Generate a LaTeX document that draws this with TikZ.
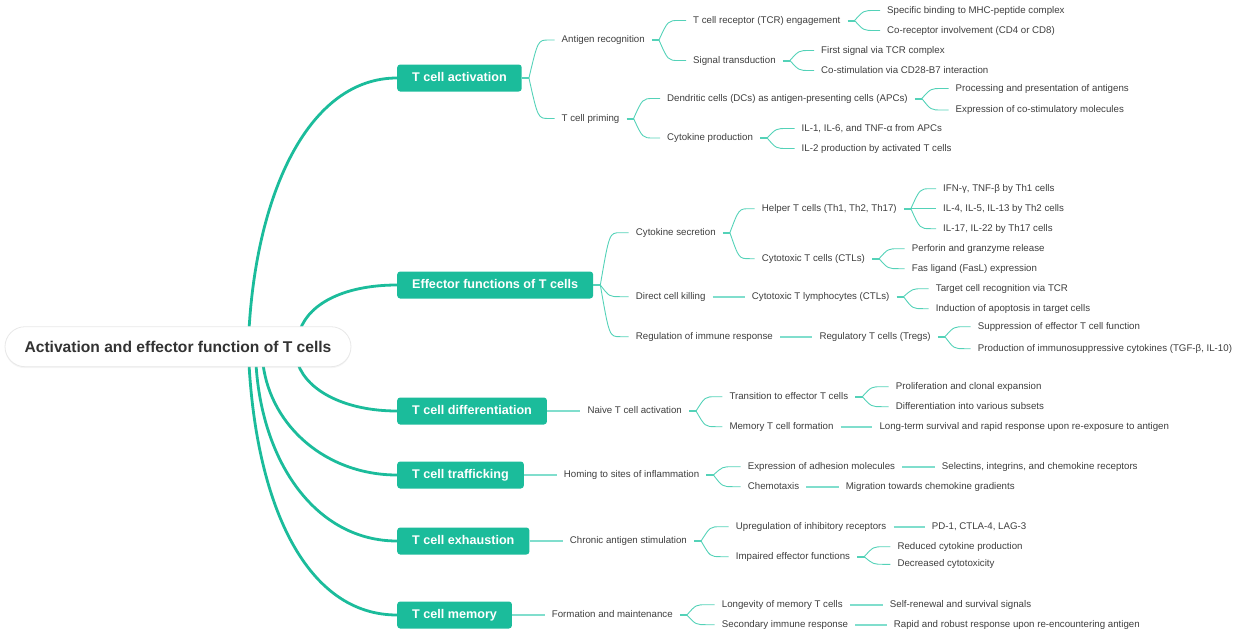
\documentclass[tikz,border=0pt]{standalone}
\usepackage{fontspec}
\setmainfont{Liberation Sans}
\usetikzlibrary{calc,shadows}
\definecolor{teal1}{RGB}{27,188,155}
\definecolor{tealL}{RGB}{84,210,184}
\definecolor{tealS}{RGB}{128,222,205}
\definecolor{txt}{RGB}{62,62,62}
\definecolor{roottxt}{RGB}{51,51,51}
\definecolor{rootline}{RGB}{232,232,232}
\newcommand\fk[2]{%
  \foreach \c in {#2}{%
    \draw[curv] ($(#1.east)+(7,0)$) .. controls ($(#1.east |- \c.west)+(16,0)$) .. ($(#1.east |- \c.west)+(27,0)$) -- (\c.west);}%
  \draw[stub] (#1.east) -- ($(#1.east)+(7.5,0)$);}
\newcommand\lnk[2]{\draw[straight] (#1.east) -- (#2.west);}
\begin{document}
\begin{tikzpicture}[x=1pt,y=-1pt,
  rootbox/.style={draw=rootline, line width=0.8pt, fill=white, rounded corners=20pt,
    minimum width=346pt, minimum height=40pt, text=roottxt,
    font=\fontsize{15.6}{18}\selectfont\bfseries,
    drop shadow={shadow xshift=0pt, shadow yshift=-1.5pt, opacity=0.08}},
  branch/.style={fill=teal1, rounded corners=3pt, text=white,
    font=\fontsize{12.6}{15}\selectfont\bfseries, anchor=west, inner xsep=15pt,
    minimum height=27pt, text height=9pt, text depth=2.5pt},
  leaf/.style={anchor=west, xshift=-7pt, inner xsep=7pt, inner ysep=0pt, text=txt,
    font=\fontsize{9.7}{11}\selectfont, text height=7pt, text depth=2pt},
  mainln/.style={draw=teal1, line width=2.8pt},
  stub/.style={draw=tealL, line width=2pt},
  curv/.style={draw=tealL, line width=0.9pt},
  straight/.style={draw=tealS, line width=1.6pt},
]
\useasboundingbox (0,0) rectangle (1240,632);

% level 1
\node[branch] (b1) at (397,78) {T cell activation};
\node[branch] (b2) at (397,285) {Effector functions of T cells};
\node[branch] (b3) at (397,411) {T cell differentiation};
\node[branch] (b4) at (397,475) {T cell trafficking};
\node[branch] (b5) at (397,541) {T cell exhaustion};
\node[branch] (b6) at (397,615) {T cell memory};

% branch 1
\node[leaf] (a1) at (561.5,40) {Antigen recognition};
\node[leaf] (a11) at (693,20.5) {T cell receptor (TCR) engagement};
\node[leaf] (a111) at (887,10.5) {Specific binding to MHC-peptide complex};
\node[leaf] (a112) at (887,30.5) {Co-receptor involvement (CD4 or CD8)};
\node[leaf] (a12) at (693,60.5) {Signal transduction};
\node[leaf] (a121) at (821,50.5) {First signal via TCR complex};
\node[leaf] (a122) at (821,70.5) {Co-stimulation via CD28-B7 interaction};
\node[leaf] (a2) at (561.5,118.5) {T cell priming};
\node[leaf] (a21) at (667,98.5) {Dendritic cells (DCs) as antigen-presenting cells (APCs)};
\node[leaf] (a211) at (955.5,88.5) {Processing and presentation of antigens};
\node[leaf] (a212) at (955.5,110) {Expression of co-stimulatory molecules};
\node[leaf] (a22) at (667,138) {Cytokine production};
\node[leaf] (a221) at (801.5,128.5) {IL-1, IL-6, and TNF-α from APCs};
\node[leaf] (a222) at (801.5,148.5) {IL-2 production by activated T cells};

% branch 2
\node[leaf] (e1) at (635.7,232.7) {Cytokine secretion};
\node[leaf] (e11) at (761.7,208.7) {Helper T cells (Th1, Th2, Th17)};
\node[leaf] (e111) at (943,188.7) {IFN-γ, TNF-β by Th1 cells};
\node[leaf] (e112) at (943,208.7) {IL-4, IL-5, IL-13 by Th2 cells};
\node[leaf] (e113) at (943,228.7) {IL-17, IL-22 by Th17 cells};
\node[leaf] (e12) at (761.7,258.7) {Cytotoxic T cells (CTLs)};
\node[leaf] (e121) at (911.7,248.7) {Perforin and granzyme release};
\node[leaf] (e122) at (911.7,268.7) {Fas ligand (FasL) expression};
\node[leaf] (e2) at (635.7,296.7) {Direct cell killing};
\node[leaf] (e21) at (751.7,296.7) {Cytotoxic T lymphocytes (CTLs)};
\node[leaf] (e211) at (935.7,288.7) {Target cell recognition via TCR};
\node[leaf] (e212) at (935.7,308.7) {Induction of apoptosis in target cells};
\node[leaf] (e3) at (635.7,336.7) {Regulation of immune response};
\node[leaf] (e31) at (819.3,336.7) {Regulatory T cells (Tregs)};
\node[leaf] (e311) at (977.7,326.7) {Suppression of effector T cell function};
\node[leaf] (e312) at (977.7,348.7) {Production of immunosuppressive cytokines (TGF-β, IL-10)};

% branch 3
\node[leaf] (d1) at (587.3,411) {Naive T cell activation};
\node[leaf] (d11) at (729.3,396.7) {Transition to effector T cells};
\node[leaf] (d111) at (895.7,386.7) {Proliferation and clonal expansion};
\node[leaf] (d112) at (895.7,406.7) {Differentiation into various subsets};
\node[leaf] (d12) at (729.3,426.7) {Memory T cell formation};
\node[leaf] (d121) at (879.3,426.7) {Long-term survival and rapid response upon re-exposure to antigen};

% branch 4
\node[leaf] (t1) at (563.7,475) {Homing to sites of inflammation};
\node[leaf] (t11) at (747.7,466.7) {Expression of adhesion molecules};
\node[leaf] (t111) at (941.7,466.7) {Selectins, integrins, and chemokine receptors};
\node[leaf] (t12) at (747.7,486.7) {Chemotaxis};
\node[leaf] (t121) at (845.7,486.7) {Migration towards chemokine gradients};

% branch 5
\node[leaf] (x1) at (569.7,541) {Chronic antigen stimulation};
\node[leaf] (x11) at (735.7,526.7) {Upregulation of inhibitory receptors};
\node[leaf] (x111) at (931.7,526.7) {PD-1, CTLA-4, LAG-3};
\node[leaf] (x12) at (735.7,556.7) {Impaired effector functions};
\node[leaf] (x121) at (897.3,546.7) {Reduced cytokine production};
\node[leaf] (x122) at (897.3,564.3) {Decreased cytotoxicity};

% branch 6
\node[leaf] (m1) at (551.7,615) {Formation and maintenance};
\node[leaf] (m11) at (721.7,604.7) {Longevity of memory T cells};
\node[leaf] (m111) at (889.7,604.7) {Self-renewal and survival signals};
\node[leaf] (m12) at (721.7,624.7) {Secondary immune response};
\node[leaf] (m121) at (893.7,624.7) {Rapid and robust response upon re-encountering antigen};

% main curves
\draw[mainln] (249,330) .. controls +(8,-140) and +(-87,0) .. (b1.west);
\draw[mainln] (300,330) .. controls +(10,-28) and +(-50,0) .. (b2.west);
\draw[mainln] (298,364) .. controls +(10,28) and +(-50,0) .. (b3.west);
\draw[mainln] (263,364) .. controls +(8,63) and +(-70,0) .. (b4.west);
\draw[mainln] (256,364) .. controls +(6,100) and +(-80,0) .. (b5.west);
\draw[mainln] (249,364) .. controls +(8,143) and +(-90,0) .. (b6.west);

\node[rootbox] (root) at (178,346.7) {Activation and effector function of T cells};

% forks and links
\fk{b1}{a1,a2}
\fk{a1}{a11,a12}
\fk{a11}{a111,a112}
\fk{a12}{a121,a122}
\fk{a2}{a21,a22}
\fk{a21}{a211,a212}
\fk{a22}{a221,a222}
\fk{b2}{e1,e2,e3}
\fk{e1}{e11,e12}
\fk{e11}{e111,e112,e113}
\fk{e12}{e121,e122}
\lnk{e2}{e21}
\fk{e21}{e211,e212}
\lnk{e3}{e31}
\fk{e31}{e311,e312}
\lnk{b3}{d1}
\fk{d1}{d11,d12}
\fk{d11}{d111,d112}
\lnk{d12}{d121}
\lnk{b4}{t1}
\fk{t1}{t11,t12}
\lnk{t11}{t111}
\lnk{t12}{t121}
\lnk{b5}{x1}
\fk{x1}{x11,x12}
\lnk{x11}{x111}
\fk{x12}{x121,x122}
\lnk{b6}{m1}
\lnk{m11}{m111}
\lnk{m12}{m121}
\fk{m1}{m11,m12}
\end{tikzpicture}
\end{document}
